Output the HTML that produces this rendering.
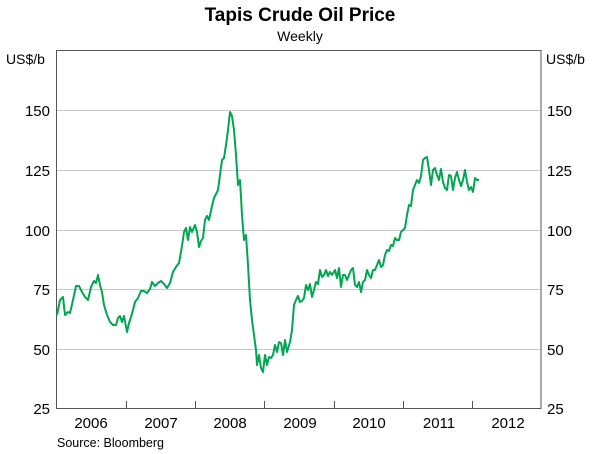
<!DOCTYPE html>
<html><head><meta charset="utf-8"><style>
html,body{margin:0;padding:0;background:#fff;}
svg{display:block;font-family:"Liberation Sans",Arial,sans-serif;}
</style></head><body>
<svg width="600" height="454" viewBox="0 0 600 454" xmlns="http://www.w3.org/2000/svg">
<text x="300" y="21" text-anchor="middle" font-size="19" font-weight="bold" fill="#000">Tapis Crude Oil Price</text>
<text x="300" y="41" text-anchor="middle" font-size="14" fill="#000">Weekly</text>
<text x="6" y="64" font-size="14">US$/b</text>
<text x="546" y="64" font-size="14">US$/b</text>
<g stroke="#c8c8c8" stroke-width="1">
<line x1="56" y1="110.5" x2="541" y2="110.5"/>
<line x1="56" y1="170.5" x2="541" y2="170.5"/>
<line x1="56" y1="230.5" x2="541" y2="230.5"/>
<line x1="56" y1="289.5" x2="541" y2="289.5"/>
<line x1="56" y1="349.5" x2="541" y2="349.5"/>
</g>
<rect x="56.5" y="50.5" width="484.5" height="358" fill="none" stroke="#555" stroke-width="1"/>
<g stroke="#555" stroke-width="1">
<line x1="126.5" y1="401" x2="126.5" y2="408"/>
<line x1="195.5" y1="401" x2="195.5" y2="408"/>
<line x1="264.5" y1="401" x2="264.5" y2="408"/>
<line x1="334.5" y1="401" x2="334.5" y2="408"/>
<line x1="403.5" y1="401" x2="403.5" y2="408"/>
<line x1="472.5" y1="401" x2="472.5" y2="408"/>
</g>
<g font-size="15" fill="#000" text-anchor="end">
<text x="50" y="116">150</text><text x="50" y="176">125</text><text x="50" y="236">100</text>
<text x="50" y="295">75</text><text x="50" y="355">50</text><text x="50" y="414">25</text>
</g>
<g font-size="15" fill="#000" text-anchor="start">
<text x="547" y="116">150</text><text x="547" y="176">125</text><text x="547" y="236">100</text>
<text x="547" y="295">75</text><text x="547" y="355">50</text><text x="547" y="414">25</text>
</g>
<g font-size="15" fill="#000" text-anchor="middle">
<text x="91" y="428">2006</text><text x="161" y="428">2007</text><text x="230" y="428">2008</text>
<text x="300" y="428">2009</text><text x="369" y="428">2010</text><text x="439" y="428">2011</text><text x="508" y="428">2012</text>
</g>
<text x="57" y="447" font-size="12.5">Source: Bloomberg</text>
<polyline fill="none" stroke="#00a651" stroke-width="2" stroke-linejoin="round" points="57,315 60,300 63,297 65,315 68,312 70,313 73,300 76,286 79,286 82,292 85,297 88,300 91,287 94,281 96,283 98,275 100,285 102,292 104,305 107,315 110,322 113,325 116,325 118,318 120,316 122,322 124,316 127,332 129,323 131,317 133,310 135,302 138,298 141,291 144,291 147,293 150,289 152,282 155,286 158,283 161,281 164,284 167,288 170,283 173,272 176,267 179,263 182,246 184,232 186,228 188,240 190,227 192,232 195,225 197,232 199,247 201,241 203,238 205,220 207,216 209,220 212,206 214,198 216,194 218,190 220,175 222,160 224,158 226,145 228,130 230,112 232,116 234,130 236,155 238,185 240,180 242,215 244,240 246,235 248,265 250,300 252,320 254,335 256,350 257,365 259,355 261,368 263,372 265,355 267,365 269,357 271,358 273,355 275,345 277,352 279,342 281,343 283,355 285,340 287,352 290,342 292,330 294,305 296,300 298,296 300,302 302,301 304,298 306,285 308,290 310,284 312,297 314,290 316,282 318,284 320,270 322,277 324,275 326,270 328,276 330,272 332,275 335,270 337,278 339,268 341,287 343,275 345,275 347,280 349,275 351,270 353,268 355,285 357,287 359,282 361,292 363,282 365,280 367,270 369,275 371,278 373,270 375,270 377,265 379,260 381,267 383,265 385,255 387,250 389,251 391,245 393,246 395,238 397,240 399,240 401,232 403,230 405,228 407,215 409,205 411,206 413,190 415,185 417,180 419,183 421,176 423,160 425,158 427,157 429,170 431,185 433,170 435,168 437,175 439,180 441,169 443,182 445,188 447,190 449,175 451,176 453,190 455,178 457,172 459,180 461,186 463,180 465,170 467,182 469,190 471,187 473,192 475,178 477,180 479,180"/>
</svg>
</body></html>
